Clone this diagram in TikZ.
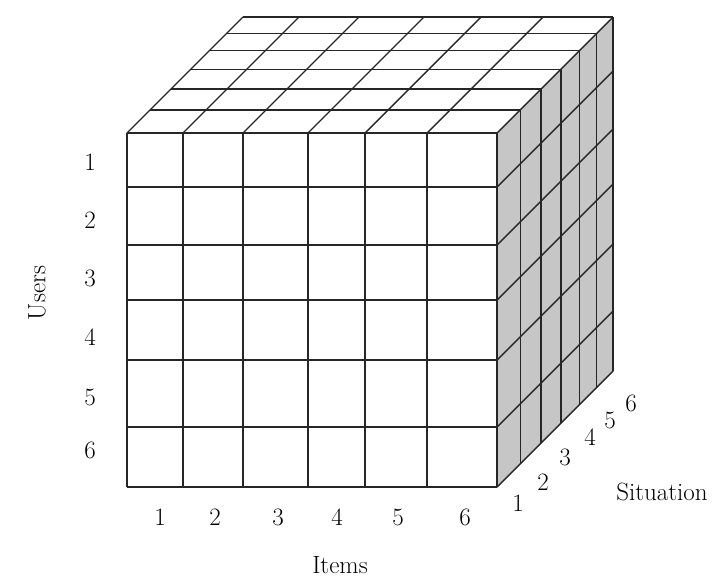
\documentclass[tikz,border=0pt]{standalone}
\usepackage{tikz}

\begin{document}
\begin{tikzpicture}[x=1pt,y=-1pt,line width=1.4pt,
  every node/.style={font=\fontsize{25}{28}\selectfont},
  grid/.style={draw=black!85}]
\useasboundingbox (0,0) rectangle (725,579);
% right face, shaded
\fill[gray!45] (497,133) -- (613,17) -- (613,372) -- (497,487) -- cycle;
% front face
\foreach \y in {133,187,245,300,360,427,487}
  \draw[grid] (127,\y) -- (497,\y);
\foreach \x in {127,183,243,308,365,427,497}
  \draw[grid] (\x,133) -- (\x,487);
% top face
\foreach \x in {127,183,243,308,365,427,497}
  \draw[grid] (\x,133) -- ({\x+116},17);
\foreach \f in {0.2,0.38,0.55,0.71,0.86,1}
  \draw[grid] ({127+116*\f},{133-116*\f}) -- ({497+116*\f},{133-116*\f});
% right face
\foreach \y in {187,245,300,360,427,487}
  \draw[grid] (497,\y) -- (613,{\y-116});
\foreach \f in {0.2,0.38,0.55,0.71,0.86,1}
  \draw[grid] ({497+116*\f},{133-116*\f}) -- ({497+116*\f},{487-116*\f});
% labels
\foreach \n/\y in {1/162,2/220,3/278,4/337,5/397,6/450}
  \node (u\n) at (90,\y) {\n};
\foreach \n/\x in {1/160,2/215,3/278,4/337,5/398,6/465}
  \node (i\n) at (\x,517) {\n};
\foreach \n/\x/\y in {1/518/503,2/543/482,3/565/457,4/590/437,5/610/420,6/631/403}
  \node (s\n) at (\x,\y) {\n};
\node[rotate=90] (users) at (37,293) {Users};
\node (items) at (340,565) {Items};
\node (situation) at (662,492) {Situation};
\end{tikzpicture}
\end{document}
